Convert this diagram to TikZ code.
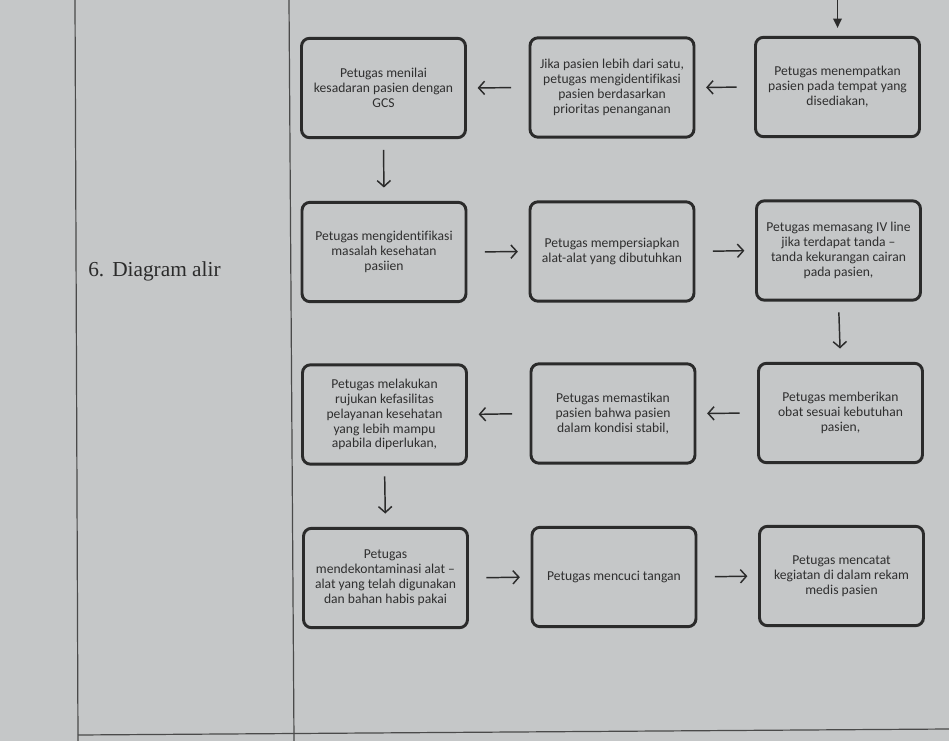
\documentclass[tikz,border=0pt]{standalone}
\usepackage{fontspec}
\setmainfont{Carlito}[Ligatures=NoCommon]
\newfontfamily\serifd{Liberation Serif}
\usetikzlibrary{arrows.meta}
\definecolor{bg}{HTML}{C5C7C8}
\definecolor{ink}{HTML}{2B2B2B}
\definecolor{txt}{HTML}{2F2F2F}
\definecolor{rule}{HTML}{4A4A4A}
\tikzset{
  stepbox/.style={draw=ink, line width=2.2pt, rounded corners=6pt,
    minimum width=123pt, minimum height=74.5pt, align=center,
    text=txt, inner sep=2pt, font=\fontsize{10.2}{11.2}\selectfont},
  flow/.style={draw=ink, line width=1.1pt,
    -{Straight Barb[length=4.5pt,width=10pt,line width=1.1pt]}},
  hflow/.style={flow, shorten <=13pt, shorten >=8pt},
  vflow/.style={flow, shorten <=8pt, shorten >=10pt},
  tline/.style={draw=rule, line width=0.9pt}
}
\begin{document}
\begin{tikzpicture}[x=0.75pt,y=-0.75pt]
\fill[bg] (0,0) rectangle (949,741);
\useasboundingbox (0,0) rectangle (949,741);
% table rules
\coordinate (l1) at (75,0); \coordinate (l2) at (78,741);
\coordinate (m1) at (289,0); \coordinate (m2) at (294,741);
\coordinate (b1) at (78,735); \coordinate (b2) at (949,729);
\draw[tline] (l1) -- (l2);
\draw[tline] (m1) -- (m2);
\draw[tline] (b1) -- (b2);
\node[anchor=west, text=ink, font=\serifd\fontsize{16}{18}\selectfont, inner sep=0pt] (title) at (88,271) {6.\hspace{6pt}Diagram alir};
% row 1
\node[stepbox] (A1) at (383.5,88) {Petugas menilai\\kesadaran pasien dengan\\GCS};
\node[stepbox] (B1) at (612,87.5) {Jika pasien lebih dari satu,\\petugas mengidentifikasi\\pasien berdasarkan\\prioritas penanganan};
\node[stepbox] (C1) at (837.5,87) {Petugas menempatkan\\pasien pada tempat yang\\disediakan,};
% row 2
\node[stepbox] (A2) at (384,252) {Petugas mengidentifikasi\\masalah kesehatan\\pasiien};
\node[stepbox] (B2) at (612,251.5) {Petugas mempersiapkan\\alat-alat yang dibutuhkan};
\node[stepbox] (C2) at (838.5,250.5) {Petugas memasang IV line\\jika terdapat tanda --\\tanda kekurangan cairan\\pada pasien,};
% row 3
\node[stepbox] (A3) at (384.5,414.5) {Petugas melakukan\\rujukan kefasilitas\\pelayanan kesehatan\\yang lebih mampu\\apabila diperlukan,};
\node[stepbox] (B3) at (613,413.5) {Petugas memastikan\\pasien bahwa pasien\\dalam kondisi stabil,};
\node[stepbox] (C3) at (840.5,413) {Petugas memberikan\\obat sesuai kebutuhan\\pasien,};
% row 4
\node[stepbox] (A4) at (385.5,578) {Petugas\\mendekontaminasi alat --\\alat yang telah digunakan\\dan bahan habis pakai};
\node[stepbox] (B4) at (614,577) {Petugas mencuci tangan};
\node[stepbox] (C4) at (841.5,576) {Petugas mencatat\\kegiatan di dalam rekam\\medis pasien};
% connectors
\coordinate (top) at (837.5,0);
\draw[draw=ink, line width=1.1pt, shorten >=6pt, -{Triangle[length=7pt,width=6.5pt]}] (top) -- (C1.north);
\draw[hflow] (C1.west) -- (B1.east);
\draw[hflow] (B1.west) -- (A1.east);
\draw[vflow] (A1.south) -- (A2.north);
\draw[hflow] (A2.east) -- (B2.west);
\draw[hflow] (B2.east) -- (C2.west);
\draw[vflow] (C2.south) -- (C3.north);
\draw[hflow] (C3.west) -- (B3.east);
\draw[hflow] (B3.west) -- (A3.east);
\draw[vflow] (A3.south) -- (A4.north);
\draw[hflow] (A4.east) -- (B4.west);
\draw[hflow] (B4.east) -- (C4.west);
\end{tikzpicture}
\end{document}
